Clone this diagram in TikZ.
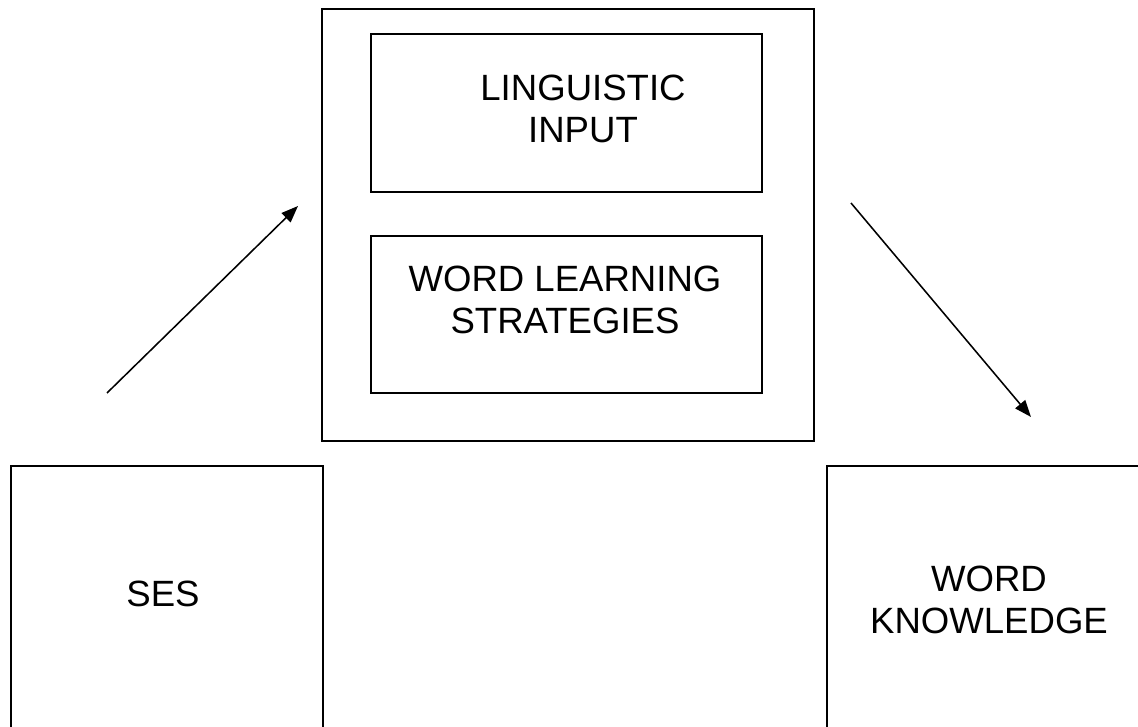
\documentclass[tikz,border=0pt]{standalone}
\usepackage{fontspec}
\setmainfont{Liberation Sans}
\usetikzlibrary{arrows.meta}

\begin{document}
\begin{tikzpicture}[x=0.025cm, y=-0.025cm,
    box/.style={draw, line width=1.2pt, inner sep=0pt},
    label/.style={align=center, font=\fontsize{26}{30}\selectfont},
    flow/.style={-{Triangle[length=0.42cm, width=0.32cm]}, line width=1.1pt}]
                \clip (0,0) rectangle (1138,727);
                % Outer frame with the two mediators
                \node[box, minimum width=12.3cm, minimum height=10.8cm] (mid) at (568, 225) {};
                \node[box, minimum width=9.775cm, minimum height=3.95cm] (input) at (566.5, 113) {};
                \node[box, minimum width=9.775cm, minimum height=3.925cm] (strat) at (566.5, 314.5) {};
                
                % Bottom boxes
                \node[box, minimum width=7.8cm, minimum height=8.35cm] (ses) at (167, 633) {};
                \node[box, minimum width=8.075cm, minimum height=8.35cm] (know) at (988.5, 633) {};
                
                % Labels
                \node[label] (inputtxt) at (583, 109) {LINGUISTIC\\INPUT};
                \node[label] (strattxt) at (565, 300) {WORD LEARNING\\STRATEGIES};
                \node[label] (sestxt) at (163, 594) {SES};
                \node[label] (knowtxt) at (989, 600) {WORD\\KNOWLEDGE};
                
                % Arrows
                \coordinate (sesout) at (107, 393);
                \coordinate (midin) at (298, 206);
                \coordinate (midout) at (851, 203);
                \coordinate (knowin) at (1031, 417);
                \draw[flow] (sesout) -- (midin);
                \draw[flow] (midout) -- (knowin);
            \end{tikzpicture}
\end{document}
